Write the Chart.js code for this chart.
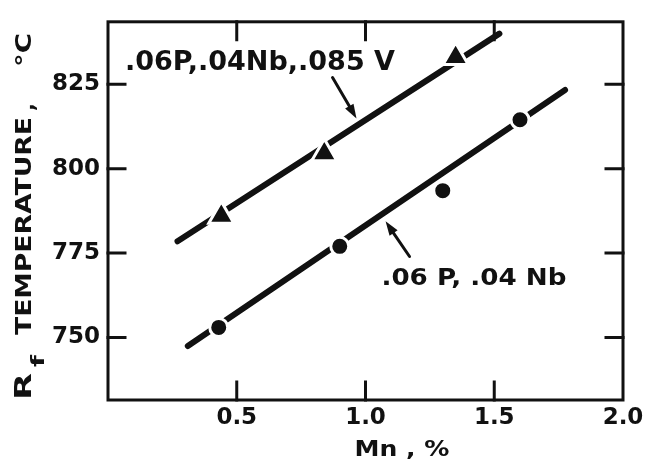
<!DOCTYPE html>
<html>
<head>
<meta charset="utf-8">
<script src="https://cdn.jsdelivr.net/npm/chart.js@4.4.0/dist/chart.umd.min.js"></script>
<style>
html, body { margin: 0; padding: 0; background: #fff; }
#wrap { width: 658px; height: 466px; }
</style>
</head>
<body>
<div id="wrap"><canvas id="rfChart"></canvas></div>
<script>
// Mn (%) vs Rf temperature (°C)
const vMn = [0.44, 0.84, 1.35];
const vTemp = [786, 804.5, 833];
const nbMn = [0.43, 0.90, 1.30, 1.60];
const nbTemp = [753, 777, 793.5, 814.5];

// hand-fitted lines through each set
const vFitMn = [0.27, 1.52];
const vFitTemp = [778.5, 840];
const nbFitMn = [0.31, 1.775];
const nbFitTemp = [747.5, 823.3];

const xTicks = [0.5, 1.0, 1.5, 2.0];
const yTicks = [750, 775, 800, 825];

const ink = '#111';
const face = 'DejaVu Sans';

function pts(xs, ys) {
    return xs.map((v, i) => ({ x: v, y: ys[i] }));
}

// squeeze or stretch a string to a given width
function fitText(ctx, text, x, y, width) {
    const w = ctx.measureText(text).width;
    ctx.save();
    ctx.translate(x, y);
    ctx.scale(width / w, 1);
    ctx.fillText(text, 0, 0);
    ctx.restore();
}

function arrow(ctx, x0, y0, x1, y1) {
    const ang = Math.atan2(y1 - y0, x1 - x0);
    const head = 15;
    ctx.beginPath();
    ctx.moveTo(x0, y0);
    ctx.lineTo(x1 - Math.cos(ang) * head * 0.8, y1 - Math.sin(ang) * head * 0.8);
    ctx.stroke();
    ctx.beginPath();
    ctx.moveTo(x1, y1);
    ctx.lineTo(x1 - Math.cos(ang - 0.33) * head, y1 - Math.sin(ang - 0.33) * head);
    ctx.lineTo(x1 - Math.cos(ang + 0.33) * head, y1 - Math.sin(ang + 0.33) * head);
    ctx.closePath();
    ctx.fill();
}

const framePlugin = {
    id: 'framePlugin',
    beforeDatasetsDraw(chart) {
        const { ctx, chartArea: a, scales: { x, y } } = chart;
        ctx.save();
        ctx.strokeStyle = ink;
        ctx.lineWidth = 3;
        ctx.lineCap = 'square';
        ctx.strokeRect(a.left, a.top, a.right - a.left, a.bottom - a.top);
        ctx.beginPath();
        xTicks.slice(0, 3).forEach(v => {
            const px = x.getPixelForValue(v);
            ctx.moveTo(px, a.bottom); ctx.lineTo(px, a.bottom - 18);
            ctx.moveTo(px, a.top); ctx.lineTo(px, a.top + 18);
        });
        yTicks.forEach(v => {
            const py = y.getPixelForValue(v);
            ctx.moveTo(a.left, py); ctx.lineTo(a.left + 17, py);
            ctx.moveTo(a.right, py); ctx.lineTo(a.right - 17, py);
        });
        ctx.stroke();
        ctx.restore();
    },
    afterDraw(chart) {
        const { ctx, chartArea: a, scales: { x, y } } = chart;
        ctx.save();
        ctx.fillStyle = ink;
        ctx.strokeStyle = ink;
        ctx.textAlign = 'left';

        // curve labels
        ctx.textBaseline = 'alphabetic';
        ctx.font = 'bold 26px ' + face;
        fitText(ctx, '.06P,.04Nb,.085 V', x.getPixelForValue(0.066), y.getPixelForValue(829.3), 270);
        ctx.font = 'bold 23px ' + face;
        fitText(ctx, '.06 P, .04 Nb', x.getPixelForValue(1.062), y.getPixelForValue(765.6), 185);

        // arrows to the lines
        ctx.lineWidth = 3;
        ctx.lineCap = 'round';
        arrow(ctx, x.getPixelForValue(0.872), y.getPixelForValue(827), x.getPixelForValue(0.965), y.getPixelForValue(814.9));
        arrow(ctx, x.getPixelForValue(1.171), y.getPixelForValue(774), x.getPixelForValue(1.078), y.getPixelForValue(784.4));

        // x axis title
        ctx.textBaseline = 'middle';
        ctx.font = 'bold 22px ' + face;
        fitText(ctx, 'Mn , %', x.getPixelForValue(0.957), a.bottom + 50, 95);

        // y axis title, rotated, with subscript f
        ctx.translate(25, a.bottom);
        ctx.rotate(-Math.PI / 2);
        ctx.font = 'bold 23px ' + face;
        fitText(ctx, 'R', 0, 0, 27);
        ctx.font = 'bold 17px ' + face;
        fitText(ctx, 'f', 33, 15, 12);
        ctx.font = 'bold 22px ' + face;
        fitText(ctx, 'TEMPERATURE', 65, 0, 218);
        fitText(ctx, ',', 289, 3, 8);
        fitText(ctx, '°C', 333, 0, 34);
        ctx.restore();
    }
};

const tickFont = { family: face, weight: 'bold', size: 23 };

new Chart(document.getElementById('rfChart'), {
    type: 'scatter',
    data: {
        datasets: [
            {
                label: '.06P, .04Nb, .085V',
                data: pts(vMn, vTemp),
                pointStyle: 'triangle',
                pointRadius: 14.5,
                pointBackgroundColor: ink,
                pointBorderColor: '#fff',
                pointBorderWidth: 3,
                order: 0
            },
            {
                label: '.06P, .04Nb',
                data: pts(nbMn, nbTemp),
                pointStyle: 'circle',
                pointRadius: 9,
                pointBackgroundColor: ink,
                pointBorderColor: '#fff',
                pointBorderWidth: 3,
                order: 0
            },
            {
                label: 'fit V',
                data: pts(vFitMn, vFitTemp),
                showLine: true,
                borderColor: ink,
                borderWidth: 6,
                borderCapStyle: 'round',
                pointRadius: 0,
                order: 1
            },
            {
                label: 'fit Nb',
                data: pts(nbFitMn, nbFitTemp),
                showLine: true,
                borderColor: ink,
                borderWidth: 6,
                borderCapStyle: 'round',
                pointRadius: 0,
                order: 1
            }
        ]
    },
    options: {
        responsive: true,
        maintainAspectRatio: false,
        animation: false,
        layout: { padding: { top: 13, right: 35, left: 0, bottom: 0 } },
        plugins: {
            legend: { display: false },
            tooltip: { enabled: false }
        },
        scales: {
            x: {
                type: 'linear',
                min: 0,
                max: 2.0,
                afterBuildTicks: s => { s.ticks = xTicks.map(v => ({ value: v })); },
                afterFit: s => { s.height = 66; },
                grid: { display: false, drawTicks: false },
                border: { display: false },
                ticks: {
                    font: tickFont,
                    color: ink,
                    padding: 4,
                    maxRotation: 0,
                    callback: v => v.toFixed(1)
                }
            },
            y: {
                type: 'linear',
                min: 731.5,
                max: 843.5,
                afterBuildTicks: s => { s.ticks = yTicks.map(v => ({ value: v })); },
                afterFit: s => { s.width = 108; },
                grid: { display: false, drawTicks: false },
                border: { display: false },
                ticks: {
                    font: tickFont,
                    color: ink,
                    padding: 8,
                    callback: v => String(v)
                }
            }
        }
    },
    plugins: [framePlugin]
});
</script>
</body>
</html>
